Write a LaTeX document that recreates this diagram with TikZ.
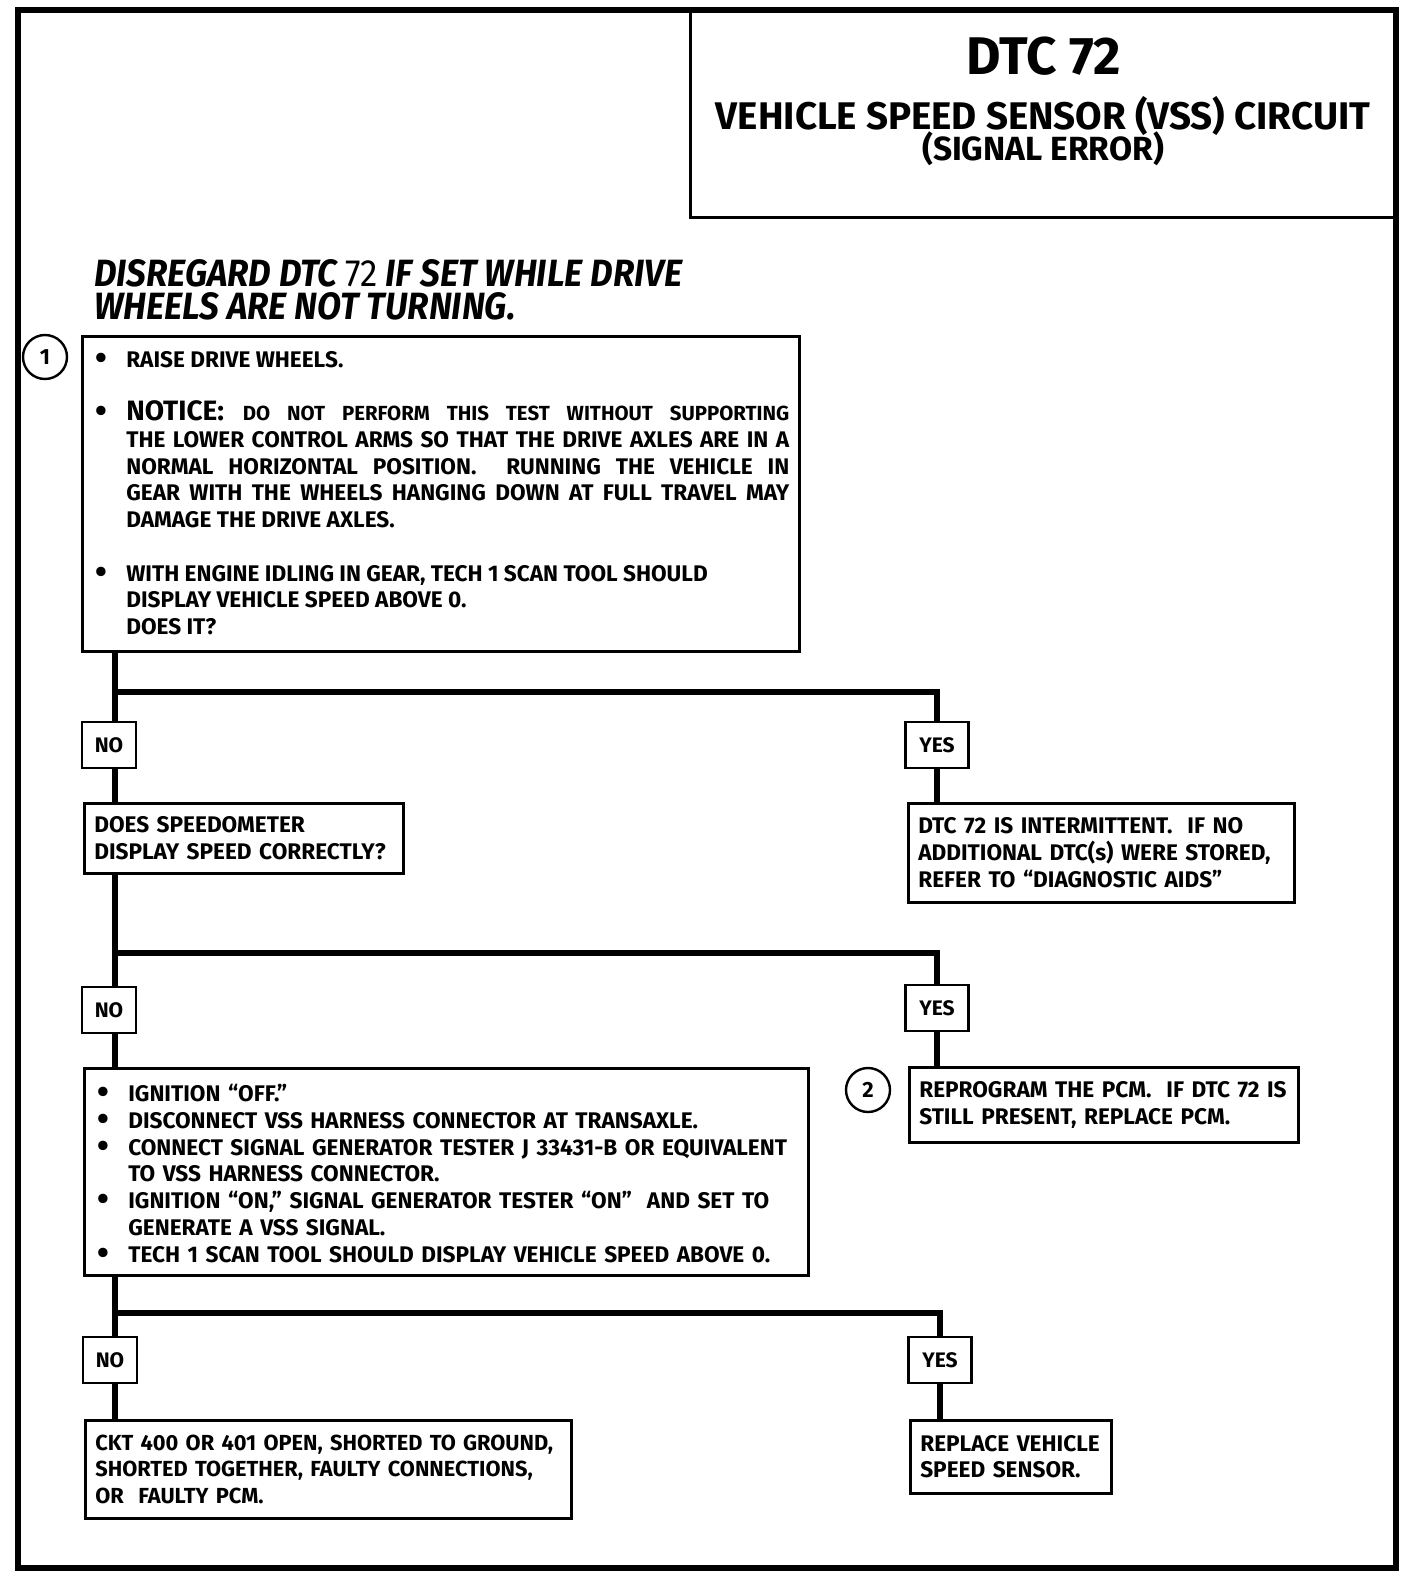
\documentclass[tikz,border=0pt]{standalone}
\usepackage{fontspec}
\setmainfont{Fira Sans}
\newfontfamily\notefont{Fira Sans}[FakeStretch=0.92]
\usetikzlibrary{
    calc,        % For coordinate calculations
    positioning  % For relative placement
}

\begin{document}
\begin{tikzpicture}[
    x=1pt, y=-1pt, % one unit per pixel of the chart
    frame/.style={line width=6pt},             % outer border
    trunk/.style={line width=6pt},             % flow lines
    stepbox/.style={draw, line width=2.6pt, anchor=north west,
        inner xsep=10pt, inner ysep=0pt, align=left,
        font=\bfseries\fontsize{22.6}{26.7}\selectfont},
    answer/.style={draw, line width=2.8pt, minimum width=54pt,
        minimum height=46pt, inner sep=0pt,
        font=\bfseries\fontsize{21}{22}\selectfont},
    yesbox/.style={answer, minimum width=63pt},
    marker/.style={circle, draw, line width=2.4pt, minimum size=44pt,
        inner sep=0pt, font=\bfseries\fontsize{22}{22}\selectfont}
]
    \useasboundingbox (0,0) rectangle (1408,1578);

    % Bullet with hanging indent, and a plain line break
    \def\bul{\par\hangindent=34pt\hangafter=1\noindent
        \hbox to 34pt{\hspace{3pt}\smash{\raisebox{-2pt}{\scalebox{1.5}{\textbullet}}}\hfil}}
    \def\nl{\hfil\break}

    % Outer frame
    \draw[frame] (18,10) rectangle (1396,1568);

    % Title box
    \node[draw, line width=3pt, anchor=north west, minimum width=707pt,
        minimum height=206pt, inner sep=0pt] (hdr) at (689,10) {};
    \node[anchor=base, font=\bfseries\fontsize{53}{53}\selectfont]
        (dtc) at (1044,75) {DTC 72};
    \node[anchor=base, font=\bfseries\fontsize{38.5}{40}\selectfont]
        (circ) at (1043,130) {VEHICLE SPEED SENSOR (VSS) CIRCUIT};
    \node[anchor=base, font=\bfseries\fontsize{33.5}{34}\selectfont]
        (err) at (1043,161) {(SIGNAL ERROR)};

    % Warning note
    \node[anchor=north west, inner sep=0pt, align=left,
        font=\notefont\bfseries\itshape\fontsize{38}{33}\selectfont]
        (note) at (94,259)
        {DISREGARD DTC {\upshape\mdseries 72} IF SET WHILE DRIVE\\WHEELS ARE NOT TURNING.};

    % Step 1
    \node[marker] (m1) at (45,357) {1};
    \node[stepbox, align=justify, text width=697pt, minimum height=315pt]
        (b1) at (81,335) {%
        \vskip -12pt\relax
        \bul RAISE DRIVE WHEELS.\par\vskip 26.7pt
        \bul {\fontsize{28}{26.7}\selectfont NOTICE:}
        {\fontsize{20.4}{26.7}\selectfont DO NOT PERFORM THIS TEST WITHOUT SUPPORTING}\linebreak
        THE LOWER CONTROL ARMS SO THAT THE DRIVE AXLES ARE IN A\linebreak
        NORMAL HORIZONTAL POSITION.\ \ RUNNING THE VEHICLE IN\linebreak
        GEAR WITH THE WHEELS HANGING DOWN AT FULL TRAVEL MAY\linebreak
        DAMAGE THE DRIVE AXLES.\par\vskip 26.7pt
        \bul WITH ENGINE IDLING IN GEAR, TECH 1 SCAN TOOL SHOULD\nl
        DISPLAY VEHICLE SPEED ABOVE 0.\nl
        DOES IT?\par};

    % Columns of the flow lines
    \coordinate (colL) at (115,0);
    \coordinate (colR) at (937,0);

    % First answer
    \coordinate (split1) at (115,692);
    \node[answer]  (no1)  at (109,745) {NO};
    \node[yesbox]  (yes1) at (937,745) {YES};
    \node[stepbox, text width=299pt, minimum height=70pt]
        (b2) at (83,802) {DOES SPEEDOMETER\\DISPLAY SPEED CORRECTLY?};
    \node[stepbox, text width=366pt, minimum height=99pt]
        (r1) at (907,802)
        {DTC 72 IS INTERMITTENT.\ \ IF NO\\ADDITIONAL DTC(s) WERE STORED,\\REFER TO ``DIAGNOSTIC AIDS''};
    \draw[trunk] (b1.south -| colL) -- (no1.north -| colL);
    \draw[trunk] (split1) -| (yes1.north);
    \draw[trunk] (no1.south -| colL) -- (b2.north -| colL);
    \draw[trunk] (yes1.south) -- (r1.north -| yes1.south);

    % Second answer
    \coordinate (split2) at (115,953);
    \node[answer]  (no2)  at (109,1010) {NO};
    \node[yesbox]  (yes2) at (937,1008) {YES};
    \node[stepbox, text width=704pt, minimum height=207pt]
        (b3) at (83,1067) {%
        \vskip -6pt\relax
        \bul IGNITION ``OFF.''
        \bul DISCONNECT VSS HARNESS CONNECTOR AT TRANSAXLE.
        \bul CONNECT SIGNAL GENERATOR TESTER J 33431-B OR EQUIVALENT\nl
        TO VSS HARNESS CONNECTOR.
        \bul IGNITION ``ON,'' SIGNAL GENERATOR TESTER ``ON''\ \ AND SET TO\nl
        GENERATE A VSS SIGNAL.
        \bul TECH 1 SCAN TOOL SHOULD DISPLAY VEHICLE SPEED ABOVE 0.\par};
    \node[marker] (m2) at (868,1090) {2};
    \node[stepbox, text width=369pt, minimum height=75pt]
        (r2) at (908,1066)
        {REPROGRAM THE PCM.\ \ IF DTC 72 IS\\STILL PRESENT, REPLACE PCM.};
    \draw[trunk] (b2.south -| colL) -- (no2.north -| colL);
    \draw[trunk] (split2) -| (yes2.north);
    \draw[trunk] (no2.south -| colL) -- (b3.north -| colL);
    \draw[trunk] (yes2.south) -- (r2.north -| yes2.south);

    % Third answer
    \coordinate (split3) at (115,1313);
    \node[answer]  (no3)  at (110,1360) {NO};
    \node[yesbox]  (yes3) at (940,1360) {YES};
    \node[stepbox, text width=466pt, minimum height=98pt,
        font=\bfseries\fontsize{21.8}{26.7}\selectfont]
        (b4) at (84,1419)
        {CKT 400 OR 401 OPEN, SHORTED TO GROUND,\\SHORTED TOGETHER, FAULTY CONNECTIONS,\\OR\ \ FAULTY PCM.};
    \node[stepbox, text width=181pt, minimum height=73pt]
        (r3) at (909,1419) {REPLACE VEHICLE\\SPEED SENSOR.};
    \draw[trunk] (b3.south -| colL) -- (no3.north -| colL);
    \draw[trunk] (split3) -| (yes3.north);
    \draw[trunk] (no3.south -| colL) -- (b4.north -| colL);
    \draw[trunk] (yes3.south) -- (r3.north -| yes3.south);

\end{tikzpicture}
\end{document}
